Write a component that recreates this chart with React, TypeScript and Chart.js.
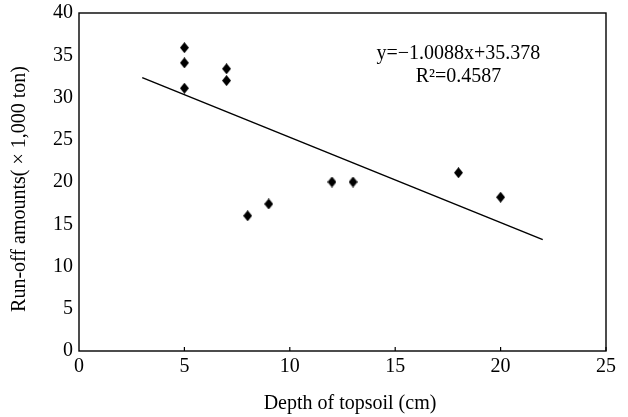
import React, { useEffect, useRef } from "react";
import { Chart, registerables } from "chart.js";

Chart.register(...registerables);

const depthCm = [5, 5, 5, 7, 7, 8, 9, 12, 13, 18, 20];
const runoff = [35.9, 34.1, 31.1, 33.4, 32.0, 16.0, 17.4, 20.0, 20.0, 21.1, 18.2];
const trendX = [3, 22];
const trendY = [32.35, 13.18];
const xTickValues = [5, 10, 15, 20, 25];
const equationLines = ["y=\u22121.0088x+35.378", "R\u00b2=0.4587"];
const xTitle = "Depth of topsoil (cm)";
const yTitle = "Run-off amounts( \u00d7 1,000 ton)";

const FONT = "'Liberation Serif', 'Times New Roman', serif";

function makeDiamond(): HTMLCanvasElement {
  const c = document.createElement("canvas");
  c.width = 9;
  c.height = 11;
  const g = c.getContext("2d")!;
  g.fillStyle = "#000";
  g.beginPath();
  g.moveTo(4.5, 0);
  g.lineTo(9, 5.5);
  g.lineTo(4.5, 11);
  g.lineTo(0, 5.5);
  g.closePath();
  g.fill();
  return c;
}

const framePlugin = {
  id: "frame",
  afterDraw(chart: any) {
    const { ctx, chartArea } = chart;
    const { left, right, top, bottom } = chartArea;
    ctx.save();
    ctx.strokeStyle = "#000";
    ctx.lineWidth = 1.4;
    ctx.strokeRect(left, top, right - left, bottom - top);
    const xs = chart.scales.x;
    ctx.lineWidth = 1.2;
    ctx.beginPath();
    for (const v of xTickValues) {
      const px = xs.getPixelForValue(v);
      ctx.moveTo(px, bottom);
      ctx.lineTo(px, bottom - 4);
    }
    ctx.stroke();
    ctx.fillStyle = "#000";
    ctx.font = `20px ${FONT}`;
    ctx.textAlign = "center";
    ctx.textBaseline = "middle";
    const cx = xs.getPixelForValue(18);
    const ys = chart.scales.y;
    ctx.fillText(equationLines[0], cx, ys.getPixelForValue(35.2));
    ctx.fillText(equationLines[1], cx, ys.getPixelForValue(32.4));
    ctx.fillText(xTitle, 350, 404);
    ctx.translate(20, 189);
    ctx.rotate(-Math.PI / 2);
    ctx.fillText(yTitle, 0, 0);
    ctx.restore();
  },
};

export default function App() {
  const ref = useRef<HTMLCanvasElement>(null);
  useEffect(() => {
    if (!ref.current) return;
    const diamond = makeDiamond();
    const chart = new Chart(ref.current, {
      type: "scatter",
      data: {
        datasets: [
          {
            type: "line",
            data: trendX.map((x, i) => ({ x, y: trendY[i] })),
            borderColor: "#000",
            borderWidth: 1.5,
            pointRadius: 0,
            fill: false,
          } as any,
          {
            data: depthCm.map((x, i) => ({ x, y: runoff[i] })),
            pointStyle: diamond as any,
            backgroundColor: "#000",
            borderColor: "#000",
          },
        ],
      },
      options: {
        animation: false,
        responsive: false,
        layout: { padding: { top: 13, right: 22, left: 0, bottom: 0 } },
        plugins: { legend: { display: false }, tooltip: { enabled: false } },
        scales: {
          x: {
            type: "linear",
            min: 0,
            max: 25,
            ticks: { stepSize: 5, color: "#000", font: { family: FONT, size: 20 }, padding: 4, maxRotation: 0 },
            grid: { display: false, drawTicks: false },
            border: { display: false },
            afterFit: (s: any) => { s.height = 66; s.paddingLeft = 0; s.paddingRight = 0; },
          },
          y: {
            min: 0,
            max: 40,
            ticks: { stepSize: 5, color: "#000", font: { family: FONT, size: 20 }, padding: 6 },
            grid: { display: false, drawTicks: false },
            border: { display: false },
            afterFit: (s: any) => { s.width = 79; s.paddingTop = 0; s.paddingBottom = 0; },
          },
        },
      },
      plugins: [framePlugin],
    });
    return () => chart.destroy();
  }, []);
  return (
    <div style={{ position: "fixed", left: 0, top: 0, width: 628, height: 417, background: "#fff" }}>
      <canvas ref={ref} width={628} height={417} />
    </div>
  );
}
